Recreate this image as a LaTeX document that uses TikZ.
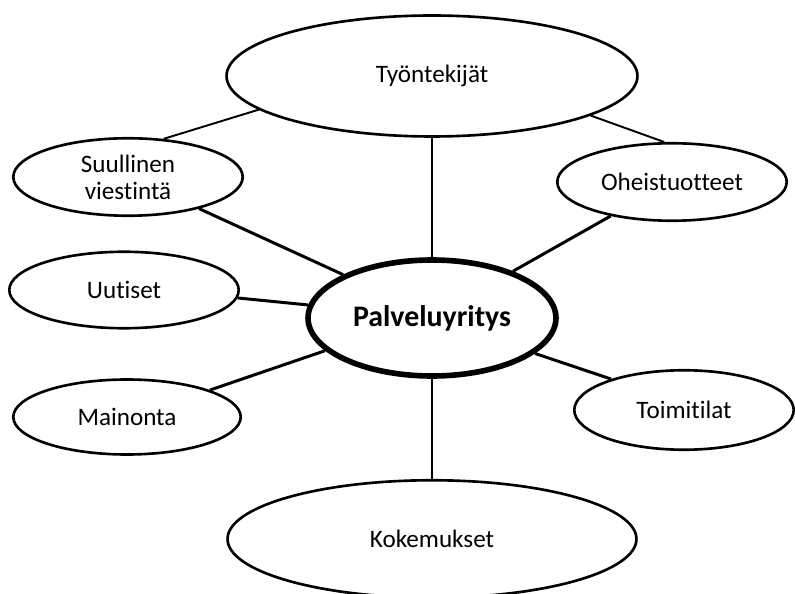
\documentclass[tikz,border=0pt]{standalone}
\usepackage{fontspec}
\setmainfont{Carlito}[Ligatures=NoCommon]
\usetikzlibrary{shapes.geometric}
\tikzset{%
  % Styles of the bubbles
        bubble/.style = {ellipse, draw=black, line width=1.5pt, fill=white,
                         inner sep=0pt, align=center,
                         font=\fontsize{14.3}{15.3}\selectfont},
     bigbubble/.style = {bubble, minimum width=8.22cm, minimum height=2.42cm},
   smallbubble/.style = {bubble, minimum width=4.59cm, minimum height=1.55cm},
          core/.style = {bubble, line width=3.2pt,
                         minimum width=4.96cm, minimum height=2.32cm,
                         font=\fontsize{17}{20}\selectfont\bfseries},
  % Styles of the links
          link/.style = {line width=1.7pt},
      thinlink/.style = {line width=1.1pt},
}

\begin{document}
\begin{tikzpicture}[x=0.02cm, y=-0.02cm]
  \useasboundingbox (0,0) rectangle (795,594);
  % Bubbles (position in pixels of the original)
  \path (432,318) node (yritys) [core] {Palveluyritys};
  \path (432,76)  node (tyontekijat) [bigbubble] {Työntekijät};
  \path (432,539) node (kokemukset)  [bigbubble, minimum width=8.18cm,
                                      minimum height=2.35cm] {Kokemukset};
  \path (128,177) node (suullinen)   [smallbubble] {Suullinen\\viestintä};
  \path (672,182) node (oheis)       [smallbubble] {Oheistuotteet};
  \path (124,290) node (uutiset)     [smallbubble, minimum height=1.53cm] {Uutiset};
  \path (127,417) node (mainonta)    [smallbubble, minimum width=4.55cm,
                                      minimum height=1.5cm] {Mainonta};
  \path (684,410) node (toimitilat)  [smallbubble, minimum width=4.39cm,
                                      minimum height=1.59cm] {Toimitilat};
  % Connections between the bubbles
  \draw[thinlink] (tyontekijat.191)   -- (suullinen.47);
  \draw[thinlink] (tyontekijat.346.5) -- (oheis.101);
  \draw[link]     (tyontekijat.south) -- (yritys.north);
  \draw[link]     (suullinen.-24.6)   -- (yritys.154);
  \draw[link]     (oheis.209.4)       -- (yritys.30.7);
  \draw[link]     (uutiset.-4.4)      -- (yritys.174.7);
  \draw[link]     (mainonta.18.6)     -- (yritys.197.6);
  \draw[link]     (toimitilat.157.8)  -- (yritys.341);
  \draw[link]     (yritys.south)      -- (kokemukset.north);
\end{tikzpicture}
\end{document}
